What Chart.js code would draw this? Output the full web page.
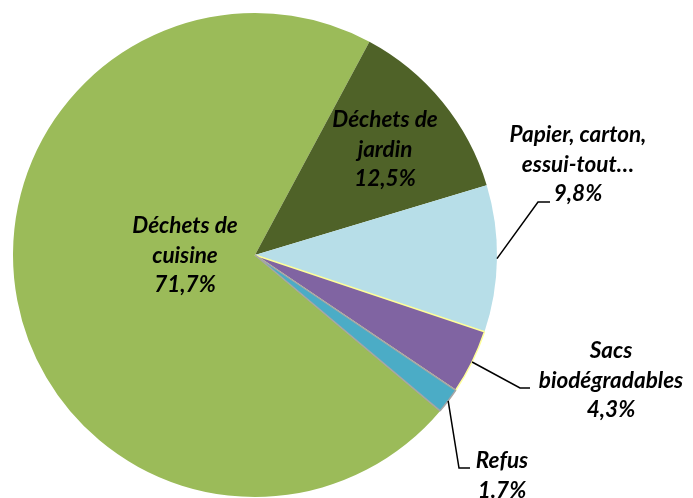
<!DOCTYPE html>
<html>
<head>
<meta charset="utf-8">
<script src="https://cdn.jsdelivr.net/npm/chart.js@4"></script>
<style>
  html, body { margin: 0; padding: 0; background: #fff; }
</style>
</head>
<body>
<canvas id="graficoDechets" width="693" height="498"></canvas>
<script>
// données
const categories = ["Déchets de cuisine", "Déchets de jardin", "Papier, carton, essui-tout…", "Sacs biodégradables", "Refus"];
const percents = [71.7, 12.5, 9.8, 4.3, 1.7];
const labelLines = [["Déchets de", "cuisine"], ["Déchets de", "jardin"], ["Papier, carton,", "essui-tout…"], ["Sacs", "biodégradables"], ["Refus"]];
const decimalSep = [",", ",", ",", ",", "."];

const colors = ["#9BBB59", "#4F6228", "#B7DEE8", "#8064A2", "#4BACC6"];
const borderColors = ["#9BBB59", "#4F6228", "#B7DEE8", "#FFFF99", "#A6A6A6"];
const borderWidths = [0, 0, 0, 1.5, 1.5];

// placement des étiquettes (par rapport au centre du camembert)
const placement = [
  { dx: -70, dy: -22 },
  { dx: 130, dy: -128 },
  { dx: 323, dy: -113, elbow: [283, -53], end: [295, -53] },
  { dx: 356, dy: 103, elbow: [265, 133], end: [275, 133] },
  { dx: 247, dy: 213, elbow: [204, 213], end: [215, 213] }
];
const lineHeight = 29.5;

const etiquettes = {
  id: "etiquettes",
  afterDatasetsDraw(chart) {
    const ctx = chart.ctx;
    const arcs = chart.getDatasetMeta(0).data;
    ctx.save();
    arcs.forEach((arc, i) => {
      const p = placement[i];
      const cx = arc.x, cy = arc.y;
      if (p.elbow) {
        const mid = (arc.startAngle + arc.endAngle) / 2;
        const ax = cx + Math.cos(mid) * arc.outerRadius;
        const ay = cy + Math.sin(mid) * arc.outerRadius;
        ctx.beginPath();
        ctx.moveTo(ax, ay);
        ctx.lineTo(cx + p.elbow[0], cy + p.elbow[1]);
        ctx.lineTo(cx + p.end[0], cy + p.end[1]);
        ctx.strokeStyle = "#000";
        ctx.lineWidth = 1.5;
        ctx.stroke();
      }
      const txt = labelLines[i].concat([percents[i].toFixed(1).replace(".", decimalSep[i]) + "%"]);
      ctx.font = "italic bold 22.5px Lato";
      ctx.fillStyle = "#000";
      ctx.textAlign = "center";
      ctx.textBaseline = "alphabetic";
      txt.forEach((t, k) => {
        ctx.fillText(t, cx + p.dx, cy + p.dy + k * lineHeight);
      });
    });
    ctx.restore();
  }
};

new Chart(document.getElementById("graficoDechets"), {
  type: "pie",
  data: {
    labels: categories,
    datasets: [{
      data: percents,
      backgroundColor: colors,
      borderColor: borderColors,
      borderWidth: borderWidths,
      radius: 242
    }]
  },
  options: {
    responsive: false,
    animation: false,
    events: [],
    rotation: 130.1,
    layout: { padding: { left: 13, top: 13, right: 196, bottom: 1 } },
    plugins: {
      legend: { display: false },
      tooltip: { enabled: false }
    }
  },
  plugins: [etiquettes]
});
</script>
</body>
</html>
